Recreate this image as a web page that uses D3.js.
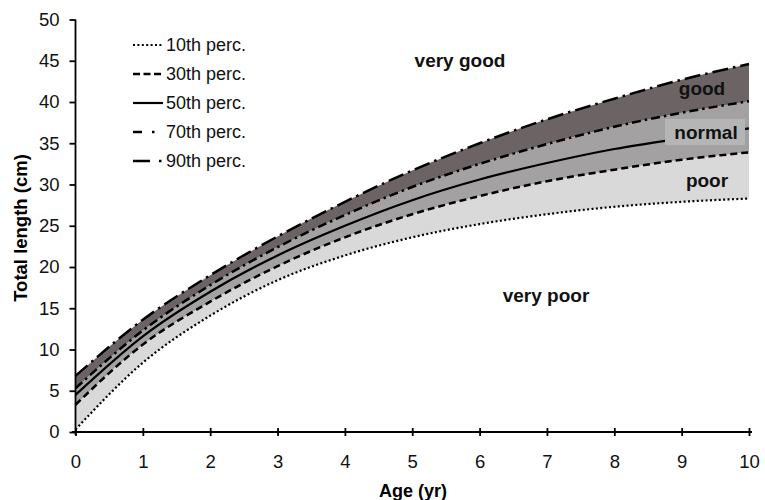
<!DOCTYPE html>
<html><head><meta charset="utf-8">
<script src="https://cdn.jsdelivr.net/npm/d3@7"></script>
<style>body{margin:0;background:#fff}svg{display:block}text{font-family:"Liberation Sans",Arial,sans-serif}</style>
</head><body><svg id="c" width="765" height="500"></svg>
<script>
const ages = [0,1,2,3,4,5,6,7,8,9,10];
const p10 = [0.3, 8.4, 14.1, 18.4, 21.4, 23.6, 25.2, 26.4, 27.3, 27.9, 28.3];
const p30 = [3.3, 10.6, 15.8, 20.1, 23.6, 26.4, 28.6, 30.4, 31.8, 33.0, 33.9];
const p50 = [4.5, 11.6, 17.0, 21.4, 25.0, 28.1, 30.6, 32.6, 34.3, 35.6, 36.8];
const p70 = [5.3, 12.3, 17.8, 22.4, 26.3, 29.7, 32.5, 34.9, 37.0, 38.7, 40.1];
const p90 = [6.8, 13.6, 19.0, 23.7, 27.9, 31.7, 35.0, 37.9, 40.4, 42.7, 44.6];
const xTicks = [0,1,2,3,4,5,6,7,8,9,10];
const yTicks = [0,5,10,15,20,25,30,35,40,45,50];
const seriesNames = ["10th perc.","30th perc.","50th perc.","70th perc.","90th perc."];
const bandLabels = ["very good","good","normal","poor","very poor"];

const svg = d3.select("#c");
const x = d3.scaleLinear().domain([0,10]).range([75.5,749]);
const y = d3.scaleLinear().domain([0,50]).range([432,19.5]);
const curve = d3.curveMonotoneX;

const series = [p10,p30,p50,p70,p90];
const styles = [
  {w:2.2, dash:"2,2.4", leg:"2,2.4"},
  {w:2.5, dash:"7,4", leg:"7,3.5"},
  {w:2.2, dash:null, leg:null},
  {w:2.5, dash:"9,4,2.5,4", leg:"9,10,2.5,30"},
  {w:2.5, dash:"16,5,2.5,5", leg:"17,9,2.5,30"}
];
function band(lo, hi, fill){
  const a = d3.area().x((d,i)=>x(ages[i])).y0((d,i)=>y(lo[i])).y1((d,i)=>y(hi[i])).curve(curve);
  svg.append("path").attr("d", a(ages)).attr("fill", fill);
}
band(p10,p30,"#d9d9d9");
band(p30,p70,"#a3a1a2");
band(p70,p90,"#6c6365");

series.forEach((s,k)=>{
  const l = d3.line().x((d,i)=>x(ages[i])).y((d,i)=>y(s[i])).curve(curve);
  svg.append("path").attr("d", l(ages)).attr("fill","none").attr("stroke","#000")
    .attr("stroke-width", styles[k].w).attr("stroke-dasharray", styles[k].dash);
});

// band labels
const lab = [
  {t:bandLabels[0], x:460, y:60},
  {t:bandLabels[1], x:702, y:88},
  {t:bandLabels[2], x:706, y:132, box:true},
  {t:bandLabels[3], x:707, y:180},
  {t:bandLabels[4], x:546, y:295}
];
lab.forEach(d=>{
  if(d.box){
    svg.append("rect").attr("x",665).attr("y",119).attr("width",80).attr("height",26).attr("fill","#b6b5b5");
  }
  svg.append("text").attr("x",d.x).attr("y",d.y).attr("text-anchor","middle").attr("dominant-baseline","central")
    .attr("font-size",19).attr("font-weight","bold").attr("fill","#111").text(d.t);
});

// axes
const yAxis = d3.axisLeft(y).tickValues(yTicks).tickSize(6).tickPadding(10);
const gy = svg.append("g").attr("transform","translate(75.5,0)").call(yAxis);
gy.select(".domain").attr("d","M0,19.5V435").attr("stroke-width",1.8);
gy.selectAll(".tick line").attr("stroke-width",1.8);
gy.selectAll("text").attr("font-size",18.5).attr("fill","#111").style("font-family","'Liberation Sans',Arial,sans-serif");

const xAxis = d3.axisBottom(x).tickValues(xTicks).tickSize(4).tickPadding(19);
const gx = svg.append("g").attr("transform","translate(0,432)").call(xAxis);
gx.select(".domain").attr("d","M72,0H752").attr("stroke-width",1.8);
gx.selectAll(".tick line").attr("y1",-4).attr("stroke-width",1.8);
gx.selectAll("text").attr("font-size",18.5).attr("fill","#111").style("font-family","'Liberation Sans',Arial,sans-serif");

svg.append("text").attr("x",413).attr("y",491).attr("text-anchor","middle").attr("dominant-baseline","central")
  .attr("font-size",18).attr("font-weight","bold").text("Age (yr)");
svg.append("text").attr("transform","translate(20,228) rotate(-90)").attr("text-anchor","middle").attr("dominant-baseline","central")
  .attr("font-size",18.5).attr("font-weight","bold").text("Total length (cm)");

// legend
const legY = [45,74,103,132,161];
seriesNames.forEach((n,k)=>{
  svg.append("line").attr("x1",133).attr("x2",163).attr("y1",legY[k]).attr("y2",legY[k])
    .attr("stroke","#000").attr("stroke-width",styles[k].w).attr("stroke-dasharray",styles[k].leg);
  svg.append("text").attr("x",166).attr("y",legY[k]).attr("dominant-baseline","central")
    .attr("font-size",18).attr("fill","#111").text(n);
});
</script></body></html>
